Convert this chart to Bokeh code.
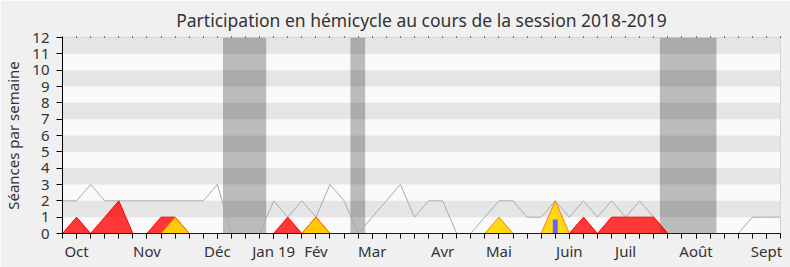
from bokeh.plotting import figure
from bokeh.models import FixedTicker, LinearAxis, Range1d, ColumnDataSource
from bokeh.embed import file_html
from bokeh.resources import INLINE

# ---- data (one value per week, week 0 = start of session) ----
weeks = list(range(52))
total = [2, 2, 3, 2, 2, 2, 2, 2, 2, 2, 2, 3, 0, 0, 0, 2, 1, 2, 1, 3,
         2, 0, 1, 2, 3, 1, 2, 2, 0, 0, 1, 2, 2, 1, 1, 2, 1, 2, 1, 2,
         1, 2, 1, 0, 0, 0, 0, 0, 0, 1, 1, 1]
presence = [0, 1, 0, 1, 2, 0, 0, 1, 1, 0, 0, 0, 0, 0, 0, 0, 1, 0, 1, 0,
            0, 0, 0, 0, 0, 0, 0, 0, 0, 0, 0, 0, 0, 0, 0, 0, 0, 1, 0, 1,
            1, 1, 1, 0, 0, 0, 0, 0, 0, 0, 0, 0]
other = [0, 0, 0, 0, 0, 0, 0, 0, 1, 0, 0, 0, 0, 0, 0, 0, 0, 0, 1, 0,
         0, 0, 0, 0, 0, 0, 0, 0, 0, 0, 0, 1, 0, 0, 0, 2, 0, 0, 0, 0,
         0, 0, 0, 0, 0, 0, 0, 0, 0, 0, 0, 0]
question_week = [35]
question_value = [0.85]
vac_start = [11.4, 20.45, 42.43]
vac_end = [14.47, 21.5, 46.45]
month_ticks = [1, 6, 11, 15, 18, 22, 27, 31, 36, 40, 45, 50]
month_labels = ["Oct", "Nov", "Déc", "Jan 19", "Fév", "Mar", "Avr", "Mai",
                "Juin", "Juil", "Août", "Sept"]
stripe_low = [1, 3, 5, 7, 9, 11]

FONT = "Noto Sans"

p = figure(width=790, height=267, output_backend="svg", toolbar_location=None,
           x_range=Range1d(0, 51), y_range=Range1d(0, 12),
           title="Participation en hémicycle au cours de la session 2018-2019")
p.min_border_left = 62
p.min_border_right = 10
p.min_border_top = 36
p.min_border_bottom = 34
p.border_fill_color = "#f0f0f0"
p.background_fill_color = "#fafafa"
p.outline_line_color = "#d0d0d0"
p.grid.visible = False

p.title.text_font = FONT
p.title.text_font_size = "17.5px"
p.title.text_font_style = "normal"
p.title.text_color = "#333333"
p.title.align = "center"
p.title.offset = 7

# stripes
p.quad(left=0, right=51, bottom=stripe_low, top=[s + 1 for s in stripe_low],
       fill_color="#e5e5e5", line_color=None)
# vacation bands
p.quad(left=vac_start, right=vac_end, bottom=0, top=12,
       fill_color="black", fill_alpha=0.25, line_color=None)

src = ColumnDataSource(dict(x=weeks, total=total, presence=presence, other=other))
p.line("x", "total", source=src, line_color="#aaaaaa", line_width=1)
p.varea(x="x", y1=0, y2="presence", source=src, fill_color="#ff0000", fill_alpha=0.78)
p.line("x", "presence", source=src, line_color="#ff0000", line_width=1)
p.varea(x="x", y1=0, y2="other", source=src, fill_color="#ffd700", fill_alpha=0.92)
p.line("x", "other", source=src, line_color="#ff7000", line_width=1, line_alpha=0.9)
p.vbar(x=question_week, top=question_value, width=0.35, fill_color="#6666ff",
       line_color=None)

# axes
xa = p.xaxis[0]
xa.ticker = FixedTicker(ticks=month_ticks, minor_ticks=weeks)
xa.major_label_overrides = {t: l for t, l in zip(month_ticks, month_labels)}
xa.major_tick_in = 0
xa.major_tick_out = 5
xa.minor_tick_in = 0
xa.minor_tick_out = 5
xa.major_tick_line_color = "black"
xa.minor_tick_line_color = "black"
xa.axis_line_color = "#5a0000"
xa.major_label_text_font = FONT
xa.major_label_text_font_size = "15px"
xa.major_label_text_color = "#333333"
xa.major_label_standoff = 2

ya = p.yaxis[0]
ya.ticker = FixedTicker(ticks=list(range(13)), minor_ticks=[])
ya.major_tick_in = 0
ya.major_tick_out = 6
ya.axis_line_color = "black"
ya.major_label_text_font = FONT
ya.major_label_text_font_size = "15px"
ya.major_label_text_color = "#333333"
ya.major_label_standoff = 7
ya.axis_label = "Séances par semaine"
ya.axis_label_text_font = FONT
ya.axis_label_text_font_size = "15px"
ya.axis_label_text_font_style = "normal"
ya.axis_label_text_color = "#333333"
ya.axis_label_standoff = 6

top = LinearAxis(ticker=FixedTicker(ticks=[], minor_ticks=weeks))
top.axis_line_color = None
top.major_tick_line_color = None
top.minor_tick_in = 0
top.minor_tick_out = 1
top.minor_tick_line_color = "black"
p.add_layout(top, "above")

open("out.html", "w").write(file_html(p, INLINE))
